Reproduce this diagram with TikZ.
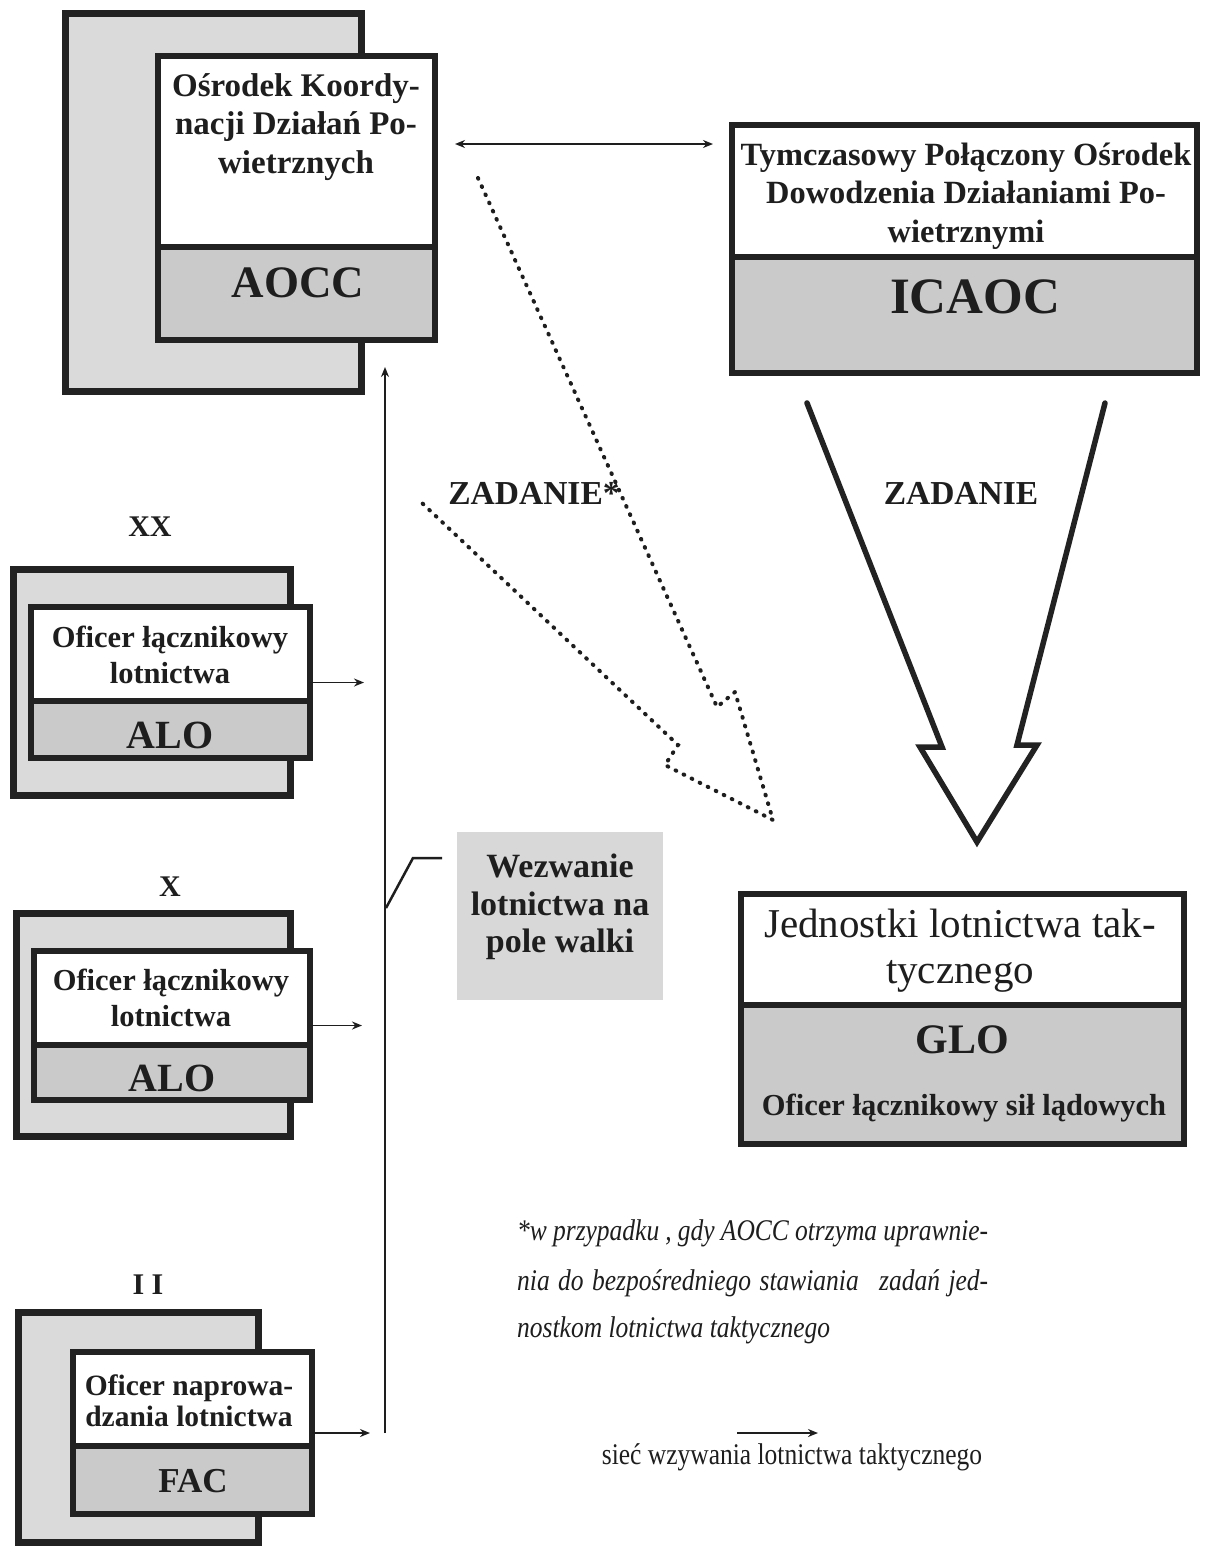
\documentclass[tikz,border=0pt]{standalone}
\usepackage{fontspec}
\setmainfont{Liberation Serif}
\newfontfamily\narrowserif[FakeStretch=0.85]{Liberation Serif}
\usetikzlibrary{arrows.meta}
\definecolor{ink}{HTML}{1E1E1E}
\definecolor{boxline}{HTML}{222222}
\definecolor{backgrey}{HTML}{DADADA}
\definecolor{lowgrey}{HTML}{CACACA}
\definecolor{callgrey}{HTML}{D8D8D8}
\newcommand\setfs[2]{\fontsize{#1}{#2}\selectfont}

\begin{document}
\begin{tikzpicture}[x=1pt,y=-1pt,
  backbox/.style={draw=boxline, line width=7pt, fill=backgrey, inner sep=0pt, outer sep=0pt},
  frontbox/.style={draw=boxline, line width=6pt, fill=white, inner sep=0pt, outer sep=0pt},
  lowpart/.style={draw=boxline, line width=6pt, fill=lowgrey},
  title/.style={text=ink, font=\bfseries\setfs{33}{38.5}, align=center, inner sep=0pt},
  smalltitle/.style={text=ink, font=\bfseries\setfs{30.5}{36}, align=center, inner sep=0pt},
  abbr/.style={text=ink, font=\bfseries\setfs{#1}{#1}, inner sep=0pt},
  level/.style={text=ink, font=\bfseries\setfs{30}{30}, inner sep=0pt},
  tasklabel/.style={text=ink, font=\bfseries\setfs{33.5}{33.5}, inner sep=0pt},
  netarrow/.style={draw=ink, line width=1.8pt, -{Stealth[length=10pt,width=8pt]}},
  bigarrow/.style={draw=boxline, line width=5.5pt, line join=miter, line cap=round},
  dotline/.style={draw=ink, line width=4pt, line cap=round, dash pattern=on 0.8pt off 8.2pt},
  calloutline/.style={draw=ink, line width=2.5pt}
]
\useasboundingbox[fill=white] (0,0) rectangle (1222,1548);

% ---- Air Operations Coordination Centre
\node[backbox, minimum width=296pt, minimum height=378pt] (aoccback) at (213.5,202.5) {};
\node[frontbox, minimum width=277pt, minimum height=284pt] (aoccfront) at (296.5,198) {};
\draw[lowpart] (aoccfront.west |- 0,247) rectangle (aoccfront.south east);
\node[title] (aocctitle) at (296,127) {Ośrodek Koordy-\\nacji Działań Po-\\wietrznych};
\node[abbr=45] (aoccabbr) at (298,283) {AOCC};

% ---- Interim Combined Air Operations Centre
\node[frontbox, minimum width=465pt, minimum height=248pt] (icaoc) at (964.5,249) {};
\draw[lowpart] (icaoc.west |- 0,257) rectangle (icaoc.south east);
\node[title, font=\bfseries\setfs{32.4}{38.5}] (icaoctitle) at (966,196) {Tymczasowy Połączony Ośrodek\\Dowodzenia Działaniami Po-\\wietrznymi};
\node[abbr=51] (icaocabbr) at (975,297) {ICAOC};

% two-way link between the centres
\coordinate (linkrow) at (0,144);
\draw[draw=ink, line width=1.8pt, {Stealth[length=10pt,width=8pt]}-{Stealth[length=10pt,width=8pt]},
      shorten <=20pt, shorten >=19pt] (aoccfront.east |- linkrow) -- (icaoc.west |- linkrow);

% ---- Division level (XX)
\node[level] (xxlabel) at (150,527) {XX};
\node[backbox, minimum width=277pt, minimum height=226pt] (xxback) at (152,682.5) {};
\node[frontbox, minimum width=279pt, minimum height=151pt] (xxfront) at (170.5,682.5) {};
\draw[lowpart] (xxfront.west |- 0,701) rectangle (xxfront.south east);
\node[smalltitle] (xxtitle) at (170,655) {Oficer łącznikowy\\lotnictwa};
\node[abbr=40] (xxabbr) at (170,735) {ALO};

% ---- Brigade level (X)
\node[level] (xlabel) at (170,887) {X};
\node[backbox, minimum width=274pt, minimum height=223pt] (xback) at (153.5,1025) {};
\node[frontbox, minimum width=276pt, minimum height=149pt] (xfront) at (172,1025.5) {};
\draw[lowpart] (xfront.west |- 0,1045) rectangle (xfront.south east);
\node[smalltitle] (xtitle) at (171,998) {Oficer łącznikowy\\lotnictwa};
\node[abbr=40] (xabbr) at (172,1078) {ALO};

% ---- Battalion level (II)
\node[level] (iilabel) at (148,1285) {I I};
\node[backbox, minimum width=240pt, minimum height=230pt] (facback) at (138.5,1427.5) {};
\node[frontbox, minimum width=239pt, minimum height=162pt] (facfront) at (192.5,1433) {};
\draw[lowpart] (facfront.west |- 0,1446) rectangle (facfront.south east);
\node[smalltitle, font=\bfseries\setfs{29.5}{31}] (factitle) at (189,1401) {Oficer naprowa-\\dzania lotnictwa};
\node[abbr=35] (facabbr) at (193,1481) {FAC};

% ---- request net: feeders and the trunk line
\coordinate (xxin) at (364,682.5);
\coordinate (xin) at (362,1025.5);
\coordinate (facin) at (370,1433);
\draw[netarrow] (xxfront.east) -- (xxin);
\draw[netarrow] (xfront.east) -- (xin);
\draw[netarrow] (facfront.east) -- (facin);
\coordinate (trunkfoot) at (385,1433);
\coordinate (trunktop) at (385,367);
\draw[netarrow] (trunkfoot) -- (trunktop);

% callout
\node[fill=callgrey, minimum width=206pt, minimum height=168pt, inner sep=0pt] (callout) at (560,916) {};
\node[title, font=\bfseries\setfs{34}{37.5}] (callouttext) at (560,907) {Wezwanie\\lotnictwa na\\pole walki};
\coordinate (calloutfoot) at (386,908);
\coordinate (calloutbend) at (413,858);
\coordinate (calloutend) at (442,858);
\draw[calloutline] (calloutfoot) -- (calloutbend) -- (calloutend);

% ---- tactical air units
\node[frontbox, minimum width=443pt, minimum height=250pt] (unitbox) at (962,1018.5) {};
\draw[lowpart] (unitbox.west |- 0,1005) rectangle (unitbox.south east);
\node[text=ink, font=\setfs{41}{46}, align=center, inner sep=0pt] (unittitle) at (960,951) {Jednostki lotnictwa tak-\\tycznego};
\node[abbr=42] (gloabbr) at (962,1040) {GLO};
\node[text=ink, font=\bfseries\setfs{30.5}{30.5}, inner sep=0pt] (glotext) at (964,1108) {Oficer łącznikowy sił lądowych};

% ---- tasking arrows
\draw[dotline] (478,178) -- (717,707) -- (735,692) -- (773,820) -- (665,765) -- (678,745) -- (422,503);
\node[tasklabel] (taskstar) at (534,493) {ZADANIE*};
\draw[bigarrow] (807,403) -- (942,747) -- (920,747) -- (977,842) -- (1037,745) -- (1017,745) -- (1105,403);
\node[tasklabel] (task) at (961,493) {ZADANIE};

% ---- footnote
\node[anchor=west, inner sep=0pt, text=ink, font=\narrowserif\itshape\setfs{30}{36}] (note1) at (517,1233)
  {\makebox[471pt][s]{*w przypadku , gdy AOCC otrzyma uprawnie-}};
\node[anchor=west, inner sep=0pt, text=ink, font=\narrowserif\itshape\setfs{30}{36}] (note2) at (517,1283)
  {\makebox[471pt][s]{nia do bezpośredniego stawiania\hspace{12pt} zadań jed-}};
\node[anchor=west, inner sep=0pt, text=ink, font=\narrowserif\itshape\setfs{30}{36}] (note3) at (517,1330)
  {nostkom lotnictwa taktycznego};

% ---- legend
\coordinate (legstart) at (737,1433);
\coordinate (legend) at (818,1433);
\draw[netarrow] (legstart) -- (legend);
\node[text=ink, font=\narrowserif\setfs{30}{36}, inner sep=0pt] (legendtext) at (792,1457) {sieć wzywania lotnictwa taktycznego};
\end{tikzpicture}
\end{document}
